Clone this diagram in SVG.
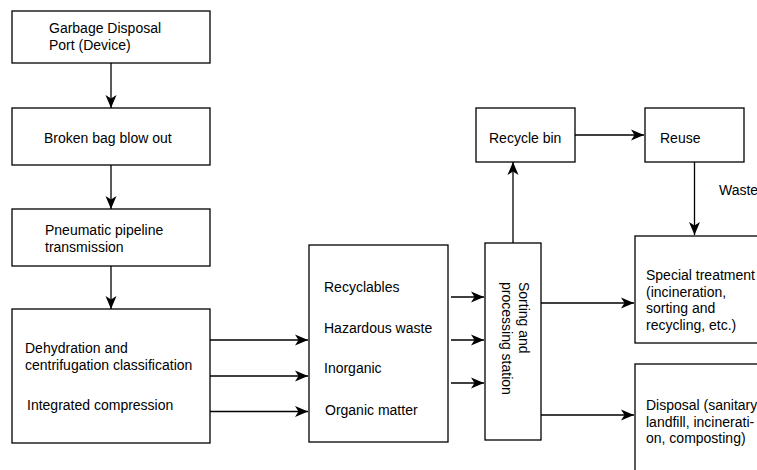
<svg xmlns="http://www.w3.org/2000/svg" width="757" height="470" viewBox="0 0 757 470">
<style>
rect{fill:#fff;stroke:#000;stroke-width:1.3}
text{font-family:"Liberation Sans",Arial,Helvetica,sans-serif;font-size:14px;fill:#000}
.c line{stroke:#000;stroke-width:1.3;marker-end:url(#ah)}
</style>
<defs>
<marker id="ah" markerUnits="userSpaceOnUse" markerWidth="14" markerHeight="12" viewBox="0 0 14 12" refX="13" refY="6" orient="auto">
<path d="M0,0.5 L13,6 L0,11.5 L3.5,6 z" fill="#000"/>
</marker>
</defs>
<rect x="0" y="0" width="757" height="470" style="stroke:none"/>
<g id="n1"><rect x="12" y="11" width="198" height="52"/><text x="49" y="33">Garbage Disposal</text><text x="49" y="50">Port (Device)</text></g>
<g id="n2"><rect x="12" y="108" width="198" height="57"/><text x="44" y="143">Broken bag blow out</text></g>
<g id="n3"><rect x="12" y="209" width="198" height="57"/><text x="45" y="235">Pneumatic pipeline</text><text x="45" y="252">transmission</text></g>
<g id="n4"><rect x="12" y="309" width="198" height="134"/><text x="25" y="353">Dehydration and</text><text x="25" y="369.5">centrifugation classification</text><text x="27" y="410">Integrated compression</text></g>
<g id="n5"><rect x="309" y="245" width="139" height="197"/><text x="324" y="292">Recyclables</text><text x="324" y="333">Hazardous waste</text><text x="324" y="373">Inorganic</text><text x="325" y="415">Organic matter</text></g>
<g id="n6"><rect x="485" y="243" width="56" height="197"/><text transform="translate(518.5,282) rotate(90)">Sorting and</text><text transform="translate(501.5,282) rotate(90)">processing station</text></g>
<g id="n7"><rect x="476" y="108" width="99" height="54"/><text x="489" y="143">Recycle bin</text></g>
<g id="n8"><rect x="645" y="108" width="99" height="54"/><text x="660" y="143">Reuse</text></g>
<g id="n9"><rect x="635" y="236" width="140" height="107"/><text x="646" y="280">Special treatment</text><text x="646" y="296.7">(incineration,</text><text x="646" y="313.4">sorting and</text><text x="646" y="330">recycling, etc.)</text></g>
<g id="n10"><rect x="635" y="364" width="140" height="120"/><text x="646" y="410">Disposal (sanitary</text><text x="646" y="427">landfill, incinerati-</text><text x="646" y="443">on, composting)</text></g>
<g id="connectors" class="c">
<line x1="111" y1="63" x2="111" y2="108"/>
<line x1="111" y1="165" x2="111" y2="209"/>
<line x1="111" y1="266" x2="111" y2="309"/>
<line x1="210" y1="340" x2="308" y2="340"/>
<line x1="210" y1="376" x2="308" y2="376"/>
<line x1="210" y1="411.5" x2="308" y2="411.5"/>
<line x1="451" y1="297" x2="484" y2="297"/>
<line x1="451" y1="340" x2="484" y2="340"/>
<line x1="451" y1="383" x2="484" y2="383"/>
<line x1="513" y1="243" x2="513" y2="162"/>
<line x1="575" y1="135" x2="644" y2="135"/>
<line x1="694.5" y1="162" x2="694.5" y2="235"/>
<line x1="541" y1="303" x2="634" y2="303"/>
<line x1="541" y1="415" x2="634" y2="415"/>
</g>
<text x="719" y="195">Waste</text>
</svg>
